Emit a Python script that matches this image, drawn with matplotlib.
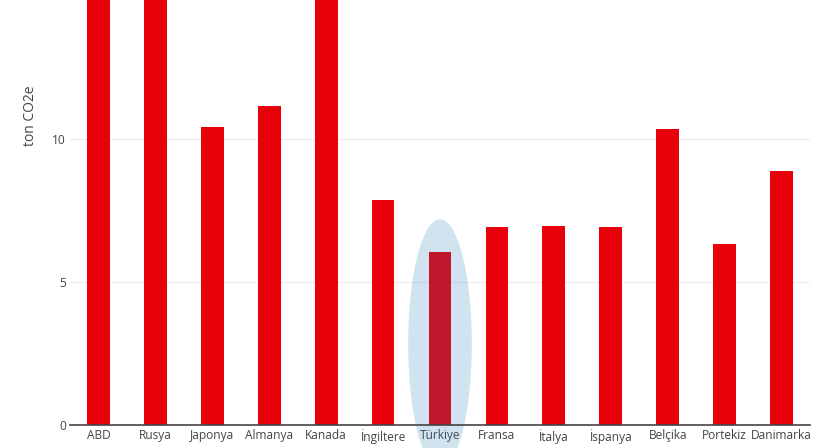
import numpy as np
import matplotlib.pyplot as plt
from matplotlib.patches import Ellipse

plt.rcParams["font.family"] = ["Open Sans", "DejaVu Sans"]

countries = ["ABD", "Rusya", "Japonya", "Almanya", "Kanada", "İngiltere", "Türkiye",
             "Fransa", "İtalya", "İspanya", "Belçika", "Portekiz", "Danimarka"]
# ABD, Rusya and Kanada run off the top of the picture; values are estimates
emissions = [19.8, 17.0, 10.42, 11.15, 20.0, 7.88, 6.06, 6.93, 6.97, 6.93, 10.36, 6.33, 8.87]
y_ticks = [0, 5, 10]
highlight = "Türkiye"

fig = plt.figure(figsize=(8.25, 4.48), dpi=100)
ax = fig.add_axes([70 / 825, 23 / 448, 740 / 825, 425 / 448])

x = np.arange(len(countries))
ax.bar(x, emissions, width=0.4, color="#e8000b", zorder=1)

# light grid under the bars
for t in y_ticks[1:]:
    ax.axhline(t, color="#eeeeee", linewidth=1, zorder=0)

ax.set_xlim(-0.5, len(countries) - 0.5)
ax.set_ylim(0, 14.86)
ax.set_xticks(x)
ax.set_xticklabels(countries)
ax.set_yticks(y_ticks)
ax.tick_params(axis="both", length=0, labelsize=8.6, labelcolor="#444444")
ax.tick_params(axis="x", pad=3)
ax.tick_params(axis="y", pad=3)

for s in ["top", "right", "left"]:
    ax.spines[s].set_visible(False)
ax.spines["bottom"].set_color("#444444")
ax.spines["bottom"].set_linewidth(1.2)

# highlight ellipse around Turkey
i = countries.index(highlight)
ell = Ellipse((x[i], 2.84), width=1.12, height=8.72, facecolor="#1f77b4",
              alpha=0.2, edgecolor="none", zorder=2, clip_on=False)
ax.add_patch(ell)

fig.text(30 / 825, 1 - 116 / 448, "ton CO2e", rotation=90, ha="center", va="center",
         fontsize=10, color="#444444")

fig.savefig("out.png", dpi=100)
